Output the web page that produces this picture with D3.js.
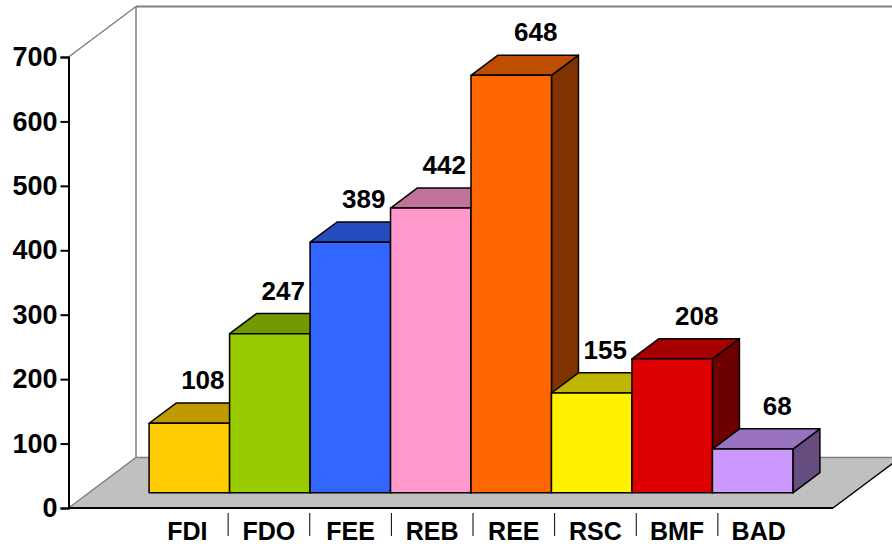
<!DOCTYPE html>
<html>
<head>
<meta charset="utf-8">
<script src="https://cdn.jsdelivr.net/npm/d3@7"></script>
<style>
  body { margin: 0; background: #fff; }
  svg text { font-family: "Liberation Sans", Arial, sans-serif; font-weight: bold; fill: #000; }
</style>
</head>
<body>
<svg id="chart" width="892" height="544"></svg>
<script>
// data
const categories = ["FDI", "FDO", "FEE", "REB", "REE", "RSC", "BMF", "BAD"];
const values = [108, 247, 389, 442, 648, 155, 208, 68];
const barColors = ["#FFCC00", "#99CC00", "#3366FF", "#FF99CC", "#FF6600", "#FFF200", "#DD0000", "#CC99FF"];
const yTicks = [0, 100, 200, 300, 400, 500, 600, 700];

// layout of the fake 3d box
const X0 = 68.5, X1 = 833;      // front plane left / right
const DX = 67.5, DY = -50.5;    // depth vector of the floor
const depthStart = 0.3, depthEnd = 0.7;

const svg = d3.select("#chart");

let y = d3.scaleLinear().domain([0, 700]).range([508, 57]);
let x = d3.scaleBand().domain(categories).range([X0, X1])
    .paddingInner(0).paddingOuter(0.75);
let labelX = d3.scaleBand().domain(categories).range([146.5, 799.5]);

// shade a colour by a factor
function shade(c, k) {
    let col = d3.rgb(c);
    return d3.rgb(col.r * k, col.g * k, col.b * k).formatHex();
}

// back wall lines
const wallGray = "#808080";
svg.append("line")
    .attr("x1", X0).attr("y1", y(700)).attr("x2", X0 + DX).attr("y2", y(700) + DY)
    .attr("stroke", wallGray).attr("stroke-width", 1.5);
svg.append("line")
    .attr("x1", X0 + DX).attr("y1", y(700) + DY).attr("x2", 892).attr("y2", y(700) + DY)
    .attr("stroke", wallGray).attr("stroke-width", 2);
svg.append("line")
    .attr("x1", X0 + DX).attr("y1", y(700) + DY).attr("x2", X0 + DX).attr("y2", y(0) + DY)
    .attr("stroke", wallGray).attr("stroke-width", 1.5);

// floor
svg.append("path")
    .attr("d", `M${X0},${y(0)} L${X1},${y(0)} L${X1 + DX},${y(0) + DY} L${X0 + DX},${y(0) + DY} Z`)
    .attr("fill", "#C0C0C0");
svg.append("path")
    .attr("d", `M${X0},${y(0)} L${X0 + DX},${y(0) + DY} L${X1 + DX},${y(0) + DY}`)
    .attr("fill", "none").attr("stroke", wallGray).attr("stroke-width", 1.5);
svg.append("line")
    .attr("x1", X1).attr("y1", y(0)).attr("x2", X1 + DX).attr("y2", y(0) + DY)
    .attr("stroke", "#000").attr("stroke-width", 1.5);

// bars, left to right so the next front face hides the side face
const bw = x.bandwidth();
const ox = DX * depthStart, oy = DY * depthStart;
const ddx = DX * (depthEnd - depthStart), ddy = DY * (depthEnd - depthStart);

const bars = svg.append("g").attr("class", "bars");
categories.forEach((c, i) => {
    let left = x(c) + ox;
    let right = left + bw;
    let bottom = y(0) + oy;
    let top = y(values[i]) + oy;
    let g = bars.append("g")
        .attr("stroke", "#000").attr("stroke-width", 1.5).attr("stroke-linejoin", "round");

    // side face
    g.append("path")
        .attr("d", `M${right},${top} L${right + ddx},${top + ddy} L${right + ddx},${bottom + ddy} L${right},${bottom} Z`)
        .attr("fill", shade(barColors[i], 0.5));
    // top face
    g.append("path")
        .attr("d", `M${left},${top} L${right},${top} L${right + ddx},${top + ddy} L${left + ddx},${top + ddy} Z`)
        .attr("fill", shade(barColors[i], 0.75));
    // front face
    g.append("rect")
        .attr("x", left).attr("y", top)
        .attr("width", bw).attr("height", bottom - top)
        .attr("fill", barColors[i]);
});

// value labels (drawn after bars so nothing covers them)
categories.forEach((c, i) => {
    let left = x(c) + ox;
    let sideShown = i === values.length - 1 || values[i + 1] < values[i];
    svg.append("text")
        .attr("x", left + bw / 2 + ddx / 2 + (sideShown ? 11 : 0))
        .attr("y", y(values[i]) + oy + ddy - 14)
        .attr("text-anchor", "middle")
        .attr("font-size", 26)
        .text(values[i]);
});

// y axis
let yAxis = svg.append("g")
    .attr("transform", `translate(${X0},0)`)
    .call(d3.axisLeft(y).tickValues(yTicks).tickSize(8).tickPadding(3).tickFormat(d3.format("d")));
yAxis.select(".domain").attr("stroke", "#000").attr("stroke-width", 2);
yAxis.selectAll(".tick line").attr("stroke", "#000").attr("stroke-width", 2);
yAxis.selectAll(".tick text")
    .attr("font-size", 27)
    .attr("font-family", "Liberation Sans, Arial, sans-serif")
    .attr("fill", "#000");

// x axis line (front edge of floor)
svg.append("line")
    .attr("x1", X0).attr("y1", y(0)).attr("x2", X1).attr("y2", y(0))
    .attr("stroke", "#000").attr("stroke-width", 2);

// category labels with separators
categories.forEach((c, i) => {
    svg.append("text")
        .attr("x", labelX(c) + labelX.bandwidth() / 2)
        .attr("y", 540)
        .attr("text-anchor", "middle")
        .attr("font-size", 25)
        .text(c);
    if (i > 0) {
        svg.append("line")
            .attr("x1", labelX(c)).attr("x2", labelX(c))
            .attr("y1", 513).attr("y2", 536)
            .attr("stroke", "#000").attr("stroke-width", 1);
    }
});
</script>
</body>
</html>
